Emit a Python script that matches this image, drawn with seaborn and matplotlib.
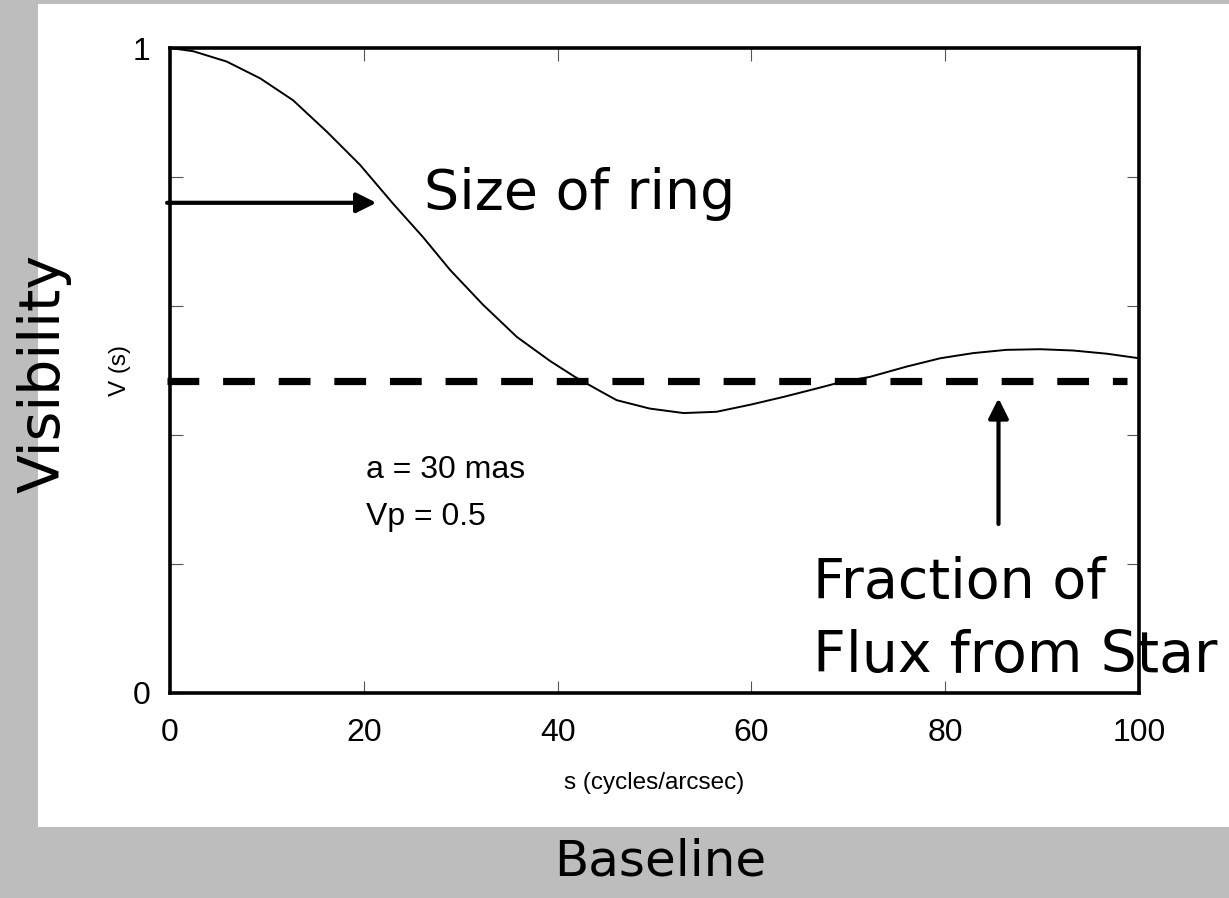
import matplotlib
matplotlib.use("Agg")
import matplotlib.pyplot as plt
import seaborn as sns
import pandas as pd
from matplotlib.patches import Rectangle

# Ring-model visibility curve, V(s) versus spatial frequency s
s_vals = [0.0, 2.4, 5.85, 9.3, 12.7, 16.2, 19.6, 23.0, 26.1, 28.9, 32.3, 35.8,
          39.2, 41.8, 44.4, 46.1, 49.5, 53.0, 56.4, 59.9, 63.3, 66.7, 69.5,
          72.2, 76.0, 79.5, 82.9, 86.3, 89.8, 93.2, 96.7, 100.0]
v_vals = [1.000, 0.995, 0.979, 0.953, 0.919, 0.870, 0.819, 0.759, 0.707, 0.656,
          0.602, 0.552, 0.515, 0.490, 0.468, 0.454, 0.441, 0.434, 0.436, 0.447,
          0.459, 0.472, 0.483, 0.490, 0.506, 0.519, 0.527, 0.532, 0.533, 0.531,
          0.526, 0.519]

# Stellar flux fraction level
star_fraction = 0.484

x_ticks = [0, 20, 40, 60, 80, 100]
y_ticks = [0, 0.2, 0.4, 0.6, 0.8, 1.0]
y_tick_labels = ["0", "", "", "", "", "1"]

sns.set_style("ticks")
plt.rcParams["font.family"] = ["Liberation Sans", "DejaVu Sans"]
plt.rcParams["text.color"] = "black"
plt.rcParams["axes.labelcolor"] = "black"
plt.rcParams["xtick.labelcolor"] = "black"
plt.rcParams["ytick.labelcolor"] = "black"

W, H = 1229, 898
fig = plt.figure(figsize=(W / 100, H / 100), dpi=100, facecolor="#bdbdbd")
fig.patches.append(Rectangle((38 / W, 1 - 827 / H), 1 - 38 / W, (827 - 4) / H,
                             transform=fig.transFigure, facecolor="white",
                             edgecolor="none", zorder=-10))

ax = fig.add_axes([170 / W, 1 - 693 / H, (1139 - 170) / W, (693 - 48) / H])
ax.set_facecolor("white")

df = pd.DataFrame({"s": s_vals, "V": v_vals})
sns.lineplot(data=df, x="s", y="V", ax=ax, color="black", linewidth=1.4)

ax.plot([-0.3, 98.8], [star_fraction, star_fraction], color="black",
        linewidth=5.2, linestyle=(0, (4.4, 3.3)), dash_capstyle="butt",
        clip_on=False, zorder=5)

ax.set_xlim(0, 100)
ax.set_ylim(0, 1)
ax.set_xticks(x_ticks)
ax.set_yticks(y_ticks)
ax.set_yticklabels(y_tick_labels)
ax.tick_params(direction="in", length=9, width=0.8, color="#555555",
               top=True, right=True, labelsize=23)
ax.tick_params(axis="x", pad=18)
ax.tick_params(axis="y", pad=14)
for sp in ax.spines.values():
    sp.set_linewidth(2.6)
    sp.set_color("black")
    sp.set_visible(True)

ax.set_xlabel("s (cycles/arcsec)", fontsize=17.5, labelpad=17)
ax.set_ylabel("V (s)", fontsize=17.5, labelpad=1)

ax.text(20.2, 0.333, "a = 30 mas", fontsize=23, ha="left", va="baseline")
ax.text(20.2, 0.260, "Vp = 0.5", fontsize=23, ha="left", va="baseline")

big = dict(family=["DejaVu Sans"], color="black")
arrow_style = "-|>,head_length=1.2,head_width=0.6"

# Arrow pointing at the curve, labelled "Size of ring"
ax.annotate("", xy=(21.3, 0.76), xytext=(-0.3, 0.76),
            arrowprops=dict(arrowstyle=arrow_style, lw=3.0, color="black",
                            shrinkA=0, shrinkB=0),
            annotation_clip=False)
ax.text(26.2, 0.75, "Size of ring", ha="left", va="baseline", fontsize=40,
        **big)

# Arrow pointing up at the dashed line
ax.annotate("", xy=(85.5, 0.457), xytext=(85.5, 0.262),
            arrowprops=dict(arrowstyle=arrow_style, lw=3.0, color="black",
                            shrinkA=0, shrinkB=0),
            annotation_clip=False)
ax.text(66.4, 0.147, "Fraction of", ha="left", va="baseline", zorder=6,
        fontsize=40, **big)
ax.text(66.4, 0.032, "Flux from Star", ha="left", va="baseline", zorder=6,
        clip_on=False, fontsize=41, **big)

fig.text(44 / W, 1 - 373 / H, "Visibility", rotation=90, ha="center",
         va="center", fontsize=41, **big)
fig.text(660 / W, 1 - 862 / H, "Baseline", ha="center", va="center",
         fontsize=36, **big)

fig.savefig("out.png", dpi=100, facecolor=fig.get_facecolor())
